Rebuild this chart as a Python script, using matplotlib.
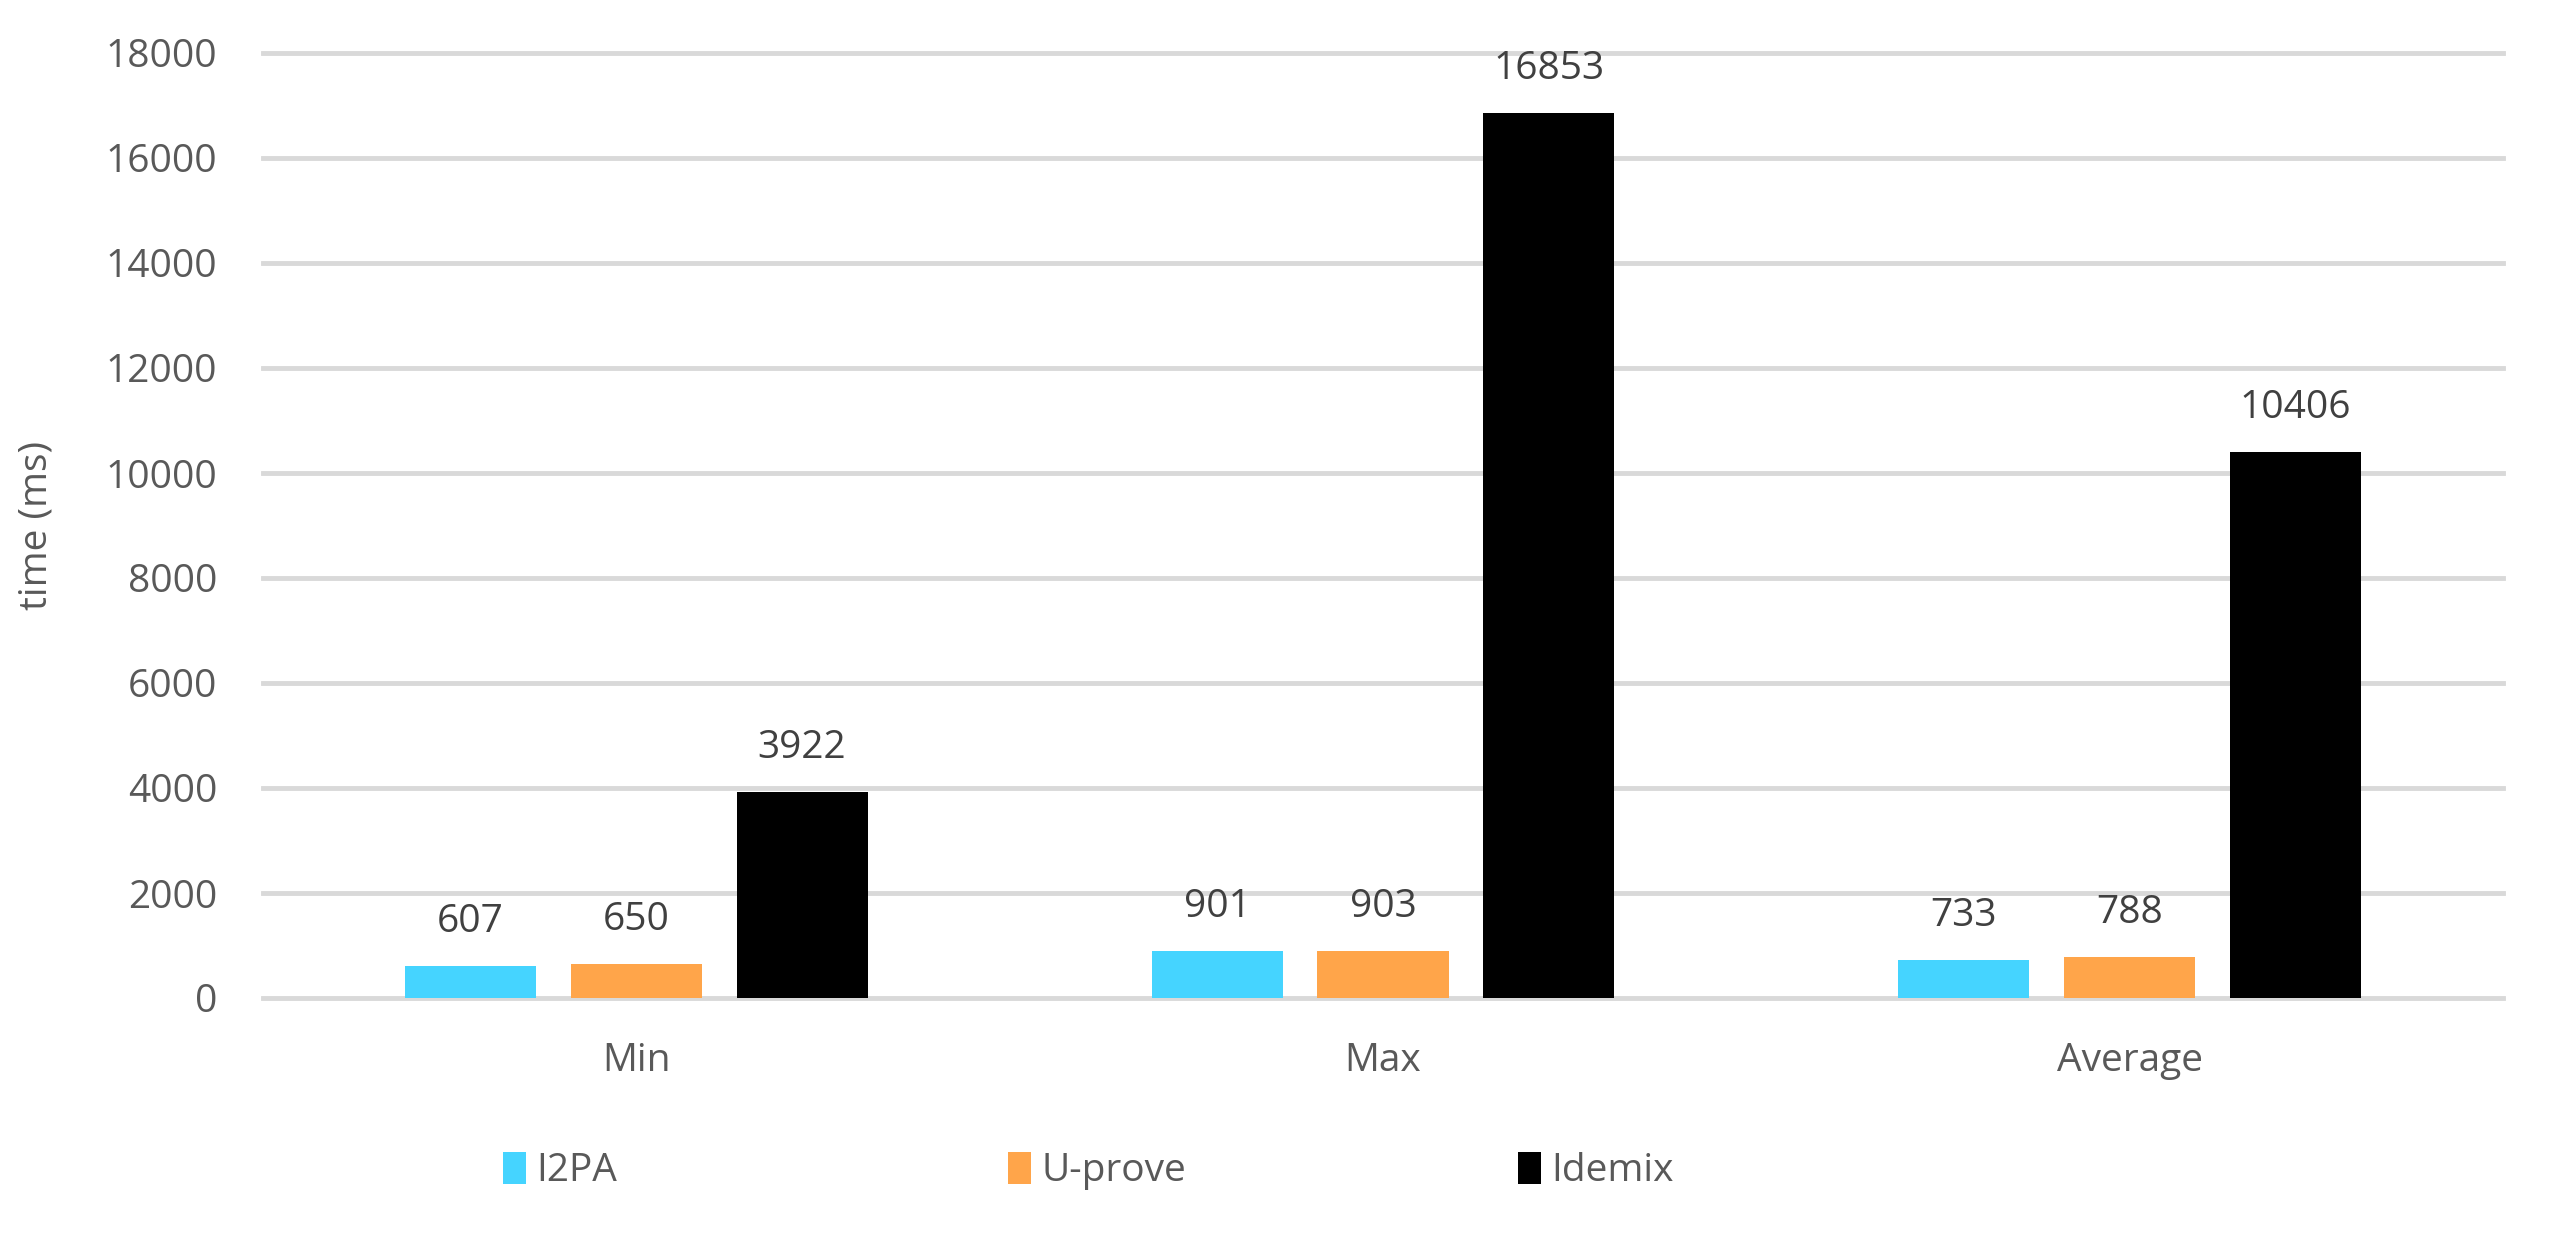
import numpy as np
import matplotlib.pyplot as plt

# datos
categories = ['Min', 'Max', 'Average']
series = ['I2PA', 'U-prove', 'Idemix']
i2pa = [607, 901, 733]
uprove = [650, 903, 788]
idemix = [3922, 16853, 10406]
colors = ['#45D4FF', '#FFA54A', '#000000']

plt.rcParams['font.family'] = ['Open Sans', 'DejaVu Sans']

fig = plt.figure(figsize=(25.49, 12.4), dpi=100)
ax = fig.add_axes([263/2549, 1 - 998/1240, (2503 - 263)/2549, (998 - 53)/1240])

x = np.arange(len(categories))
w = 0.1755          # ancho de barra
step = 0.222        # distancia entre barras
bars = []
for i, (vals, name) in enumerate(zip([i2pa, uprove, idemix], series)):
    b = ax.bar(x + (i - 1) * step, vals, w, color=colors[i], label=name, zorder=3)
    bars.append(b)
    for xi, v in zip(x + (i - 1) * step, vals):
        ax.annotate(str(v), (xi, v), xytext=(0, 25), textcoords='offset pixels',
                    ha='center', va='bottom', fontsize=28, color='#404040')

ax.set_xlim(-0.5, 2.5)
ax.set_ylim(0, 18000)
ax.set_yticks(np.arange(0, 18001, 2000))
ax.set_xticks(x)
ax.set_xticklabels(categories)
ax.yaxis.grid(True, color='#D9D9D9', linewidth=3.5, zorder=0)
for gl in ax.get_ygridlines():
    gl.set_clip_on(False)   # que no se corten las líneas de 0 y 18000
ax.set_axisbelow(True)
for s in ax.spines.values():
    s.set_visible(False)
ax.tick_params(axis='both', length=0, labelsize=28, labelcolor='#595959')
ax.tick_params(axis='y', pad=33)
ax.tick_params(axis='x', pad=32)
ax.set_ylabel('time (ms)', fontsize=28, color='#595959', labelpad=36)

# leyenda: tres entradas separadas como en Excel
legend_x = [503, 1008, 1518]
for b, name, lx in zip(bars, series, legend_x):
    fig.legend([b], [name], loc='center left', bbox_to_anchor=(lx/2549, 1 - 1171/1240),
               frameon=False, fontsize=28, labelcolor='#595959', borderpad=0, borderaxespad=0,
               handlelength=0.6, handleheight=0.9, handletextpad=0.25)

fig.savefig('out.png', dpi=100)
